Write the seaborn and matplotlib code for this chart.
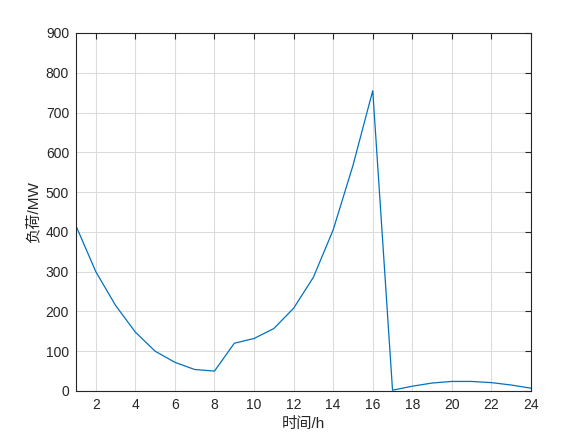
import numpy as np
import pandas as pd
import matplotlib
matplotlib.use("Agg")
import matplotlib.pyplot as plt
import seaborn as sns

# data
hours = list(range(1, 25))
load_mw = [415, 300, 215, 148, 100, 72, 54, 50, 120, 132, 157, 208,
           286, 405, 567, 755, 2, 12, 20, 24, 24, 21, 15, 7]

df = pd.DataFrame({"hour": hours, "load": load_mw})

sns.set_theme(style="white")
plt.rcParams['font.family'] = ['Liberation Sans', 'Noto Sans CJK SC', 'DejaVu Sans']
plt.rcParams['axes.unicode_minus'] = False

fig = plt.figure(figsize=(5.87, 4.4), dpi=100)
ax = fig.add_axes([0.1295, 0.1114, 0.7751, 0.8136])

sns.lineplot(data=df, x="hour", y="load", ax=ax, color="#0072BD", linewidth=0.9)

ax.set_xlim(1, 24)
ax.set_ylim(0, 900)
ax.set_xticks(range(2, 25, 2))
ax.set_yticks(range(0, 901, 100))
ax.grid(True, color="#dcdcdc", linewidth=0.8)
ax.set_axisbelow(True)
for s in ax.spines.values():
    s.set_color("#262626")
    s.set_linewidth(0.8)
ax.tick_params(direction="in", length=4, width=0.8, top=True, right=True,
               labelsize=10, colors="#262626", pad=5)
ax.set_xlabel("时间/h", fontsize=11, color="#262626")
ax.set_ylabel("负荷/MW", fontsize=11, color="#262626")

fig.savefig("out.png", dpi=100, facecolor="white")
